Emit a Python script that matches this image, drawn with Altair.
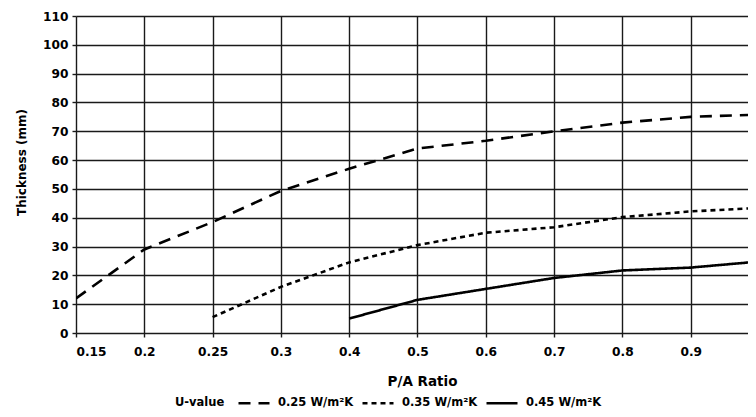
import altair as alt
import pandas as pd

ratios = ["0.15", "0.2", "0.25", "0.3", "0.4", "0.5", "0.6", "0.7", "0.8", "0.9", "1.0"]
u025 = [12, 29, 38.5, 49.3, 57, 64, 66.7, 70, 73, 75, 75.8]
u035 = [None, None, 5.5, 16, 24.5, 30.5, 34.8, 36.7, 40.2, 42.2, 43.4]
u045 = [None, None, None, None, 5, 11.5, 15.3, 19.1, 21.7, 22.7, 24.8]
series_names = ["0.25 W/m²K", "0.35 W/m²K", "0.45 W/m²K"]
legend_title = ["U-value"]
y_ticks = list(range(0, 111, 10))

rows = []
for name, vals in zip(series_names, [u025, u035, u045]):
    for i, (r, v) in enumerate(zip(ratios, vals)):
        if v is not None:
            rows.append({"idx": i, "ratio": r, "thickness": v, "series": name})
df = pd.DataFrame(rows)

label_expr = "[" + ",".join(f"'{r}'" for r in ratios) + "][datum.value]"
FONT = "DejaVu Sans"

lines = alt.Chart(df).mark_line(clip=True, color="black", strokeWidth=2.6).encode(
    x=alt.X("idx:Q",
            scale=alt.Scale(domain=[0, 9.839], nice=False, zero=False),
            axis=alt.Axis(values=list(range(10)), labelExpr=label_expr,
                          title="P/A Ratio", titleFontSize=13.5,
                          titleX=346, titleY=48, titleBaseline="middle",
                          labelPadding=8)),
    y=alt.Y("thickness:Q",
            scale=alt.Scale(domain=[0, 110], nice=False),
            axis=alt.Axis(values=y_ticks, title="Thickness (mm)", titleFontSize=12,
                          titleX=-54.5, titleY=146, titleBaseline="middle",
                          labelPadding=4)),
    strokeDash=alt.StrokeDash(
        "series:N",
        scale=alt.Scale(domain=series_names, range=[[12, 8], [5, 4], [1, 0]]),
        legend=alt.Legend(title=None, orient="none", legendX=161, legendY=370,
                          direction="horizontal",
                          symbolType="stroke", symbolSize=961,
                          symbolStrokeWidth=2.6, symbolStrokeColor="black",
                          labelFont=FONT, labelFontSize=11.5,
                          labelFontWeight="bold",
                          labelColor="black",
                          labelOffset=7, columnPadding=3)),
)

title_text = alt.Chart(pd.DataFrame({"t": legend_title})).mark_text(
    align="left", baseline="middle", fontWeight="bold", fontSize=11.5,
    color="black", font=FONT
).encode(
    text="t:N",
    x=alt.value(99),
    y=alt.value(387),
)

chart = alt.layer(lines, title_text).properties(
    width=672, height=317,
    autosize=alt.AutoSizeParams(type="none"),
    padding={"left": 68, "top": 8, "right": 0, "bottom": 76},
).configure(
    font=FONT,
).configure_view(
    strokeWidth=0,
).configure_axis(
    domain=False,
    grid=True,
    gridColor="#1a1a1a",
    gridWidth=1.4,
    gridOpacity=1,
    tickColor="#1a1a1a",
    tickWidth=1.4,
    tickSize=4,
    labelFont=FONT,
    titleFont=FONT,
    labelFontSize=12.2,
    labelFontWeight="bold",
    labelColor="black",
    titleFontWeight="bold",
    titleColor="black",
)

chart.save("out.html", embed_options={"renderer": "svg", "actions": False})
